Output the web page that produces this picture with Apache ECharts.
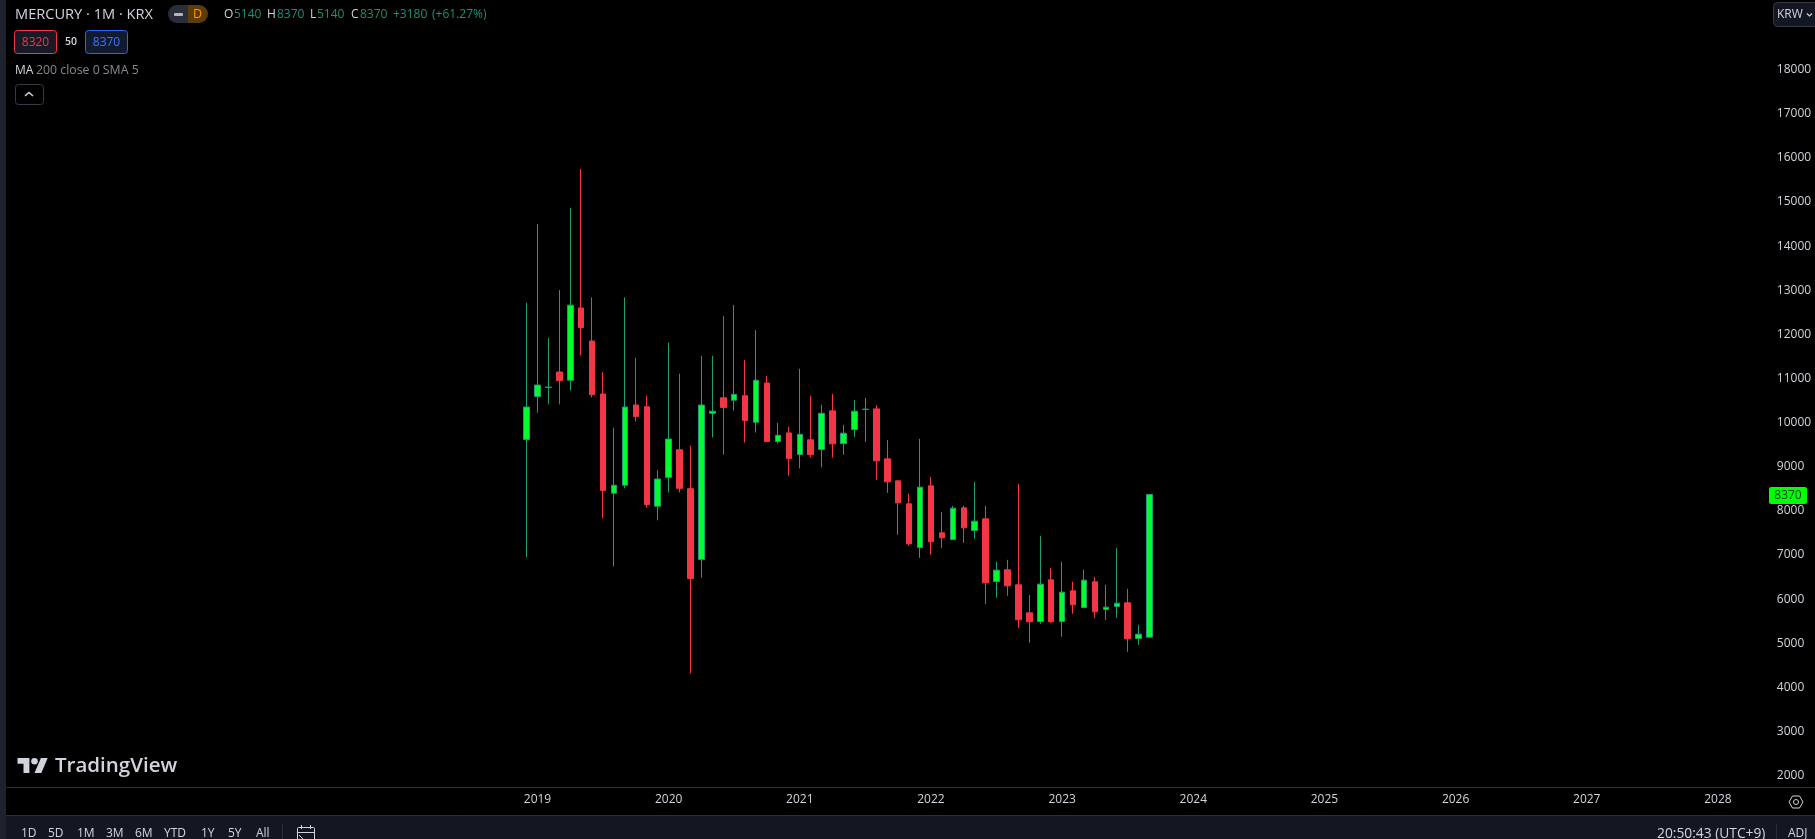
<!DOCTYPE html>
<html>
<head>
<meta charset="utf-8">
<style>html,body{margin:0;padding:0;background:#000;overflow:hidden}#c{width:1815px;height:839px}</style>
<script src="https://cdn.jsdelivr.net/npm/echarts@6/dist/echarts.min.js"></script>
</head>
<body>
<div id="c"></div>
<script>
// Monthly bars, Dec 2018 .. Sep 2023
const opens  = [9620,10595,10800,11149,10962,12600,11851,10650,8403,8583,10400,10361,8107,8762,9386,8505,6898,10213,10564,10510,10611,10010,10900,9573,9769,9277,9612,9394,
                10268,9528,9845,10300,10313,9180,8682,8161,7172,8569,7504,7353,8070,7557,7821,6401,6666,6326,5691,5495,6439,5495,6190,5812,6394,5767,5835,5918,5110,5140];
const closes = [10354,10853,10806,10954,12663,12156,10634,8466,8583,10354,10143,8146,8723,9628,8513,6469,10400,10260,10346,10642,10049,10962,9573,9714,9191,9737,9277,10213,
                9520,9762,10260,10306,9135,8659,8184,7255,8539,7300,7391,8063,7617,7768,6371,6658,6303,5533,5488,6341,5488,6160,5873,6432,5714,5820,5910,5102,5208,8370];
const lows   = [6945,10229,10416,10416,10728,11524,10572,7834,6742,8513,10026,8076,7787,8419,8419,4316,6492,9667,9277,10276,9550,9776,9573,9527,8801,8965,9215,8988,
                9211,9271,9679,9566,8705,8410,7459,7209,6938,7006,7164,7353,7277,7368,5895,6031,6077,5352,5012,5442,5465,5148,5669,5812,5578,5533,5578,4808,4966,5140];
const highs  = [12717,14504,11922,13006,14870,15752,12842,11149,9886,12842,11469,10611,8926,11812,11110,9480,11516,11516,12421,12670,11422,12101,11063,9995,9909,11220,10611,10408,
                10653,9951,10517,10563,10396,9611,8682,8388,9634,8773,7980,8116,8116,8659,8116,6847,6892,8614,6099,7436,6711,6847,6394,6666,6507,6326,7164,6235,5420,8370];
const priceTicks = [2000,3000,4000,5000,6000,7000,8000,9000,10000,11000,12000,13000,14000,15000,16000,17000,18000];
const firstYear = 2015, lastMonthCount = 161, leadingEmptyMonths = 47, firstLabelYear = 2019;
const categories = [];
for (let i = 0; i < lastMonthCount; i++) {
  const y = firstYear + Math.floor(i / 12), m = i % 12 + 1;
  categories.push(y + '-' + String(m).padStart(2, '0'));
}
const bars = Array(leadingEmptyMonths).fill('-').concat(opens.map((o, i) => [o, closes[i], lows[i], highs[i]]));

const FONT = '"Open Sans","Noto Sans",sans-serif';
const GREY = '#d1d4dc', TEAL = '#1f8f78', UP = '#00ff2a', UPB = '#1f9c7c', DOWN = '#f23645';
const txt = (text, x, y, fill, size, extra) => ({ type: 'text', x, y, silent: true, z: 20,
  style: Object.assign({ text, fill, font: (size || 12) + 'px ' + FONT, textVerticalAlign: 'middle', textBaseline: 'middle' }, extra || {}) });
const rect = (x, y, w, h, fill, stroke, r) => ({ type: 'rect', silent: true, z: 10,
  shape: { x, y, width: w, height: h, r: r || 0 }, style: { fill: fill || 'transparent', stroke: stroke || null, lineWidth: stroke ? 1 : 0 } });
const line = (x1, y1, x2, y2, stroke, lw) => ({ type: 'line', silent: true, z: 11, shape: { x1, y1, x2, y2 }, style: { stroke, lineWidth: lw || 1 } });
const poly = (pts, stroke, lw) => ({ type: 'polyline', silent: true, z: 21, shape: { points: pts }, style: { stroke, lineWidth: lw || 1.5, fill: null } });
const solid = (pts, fill) => ({ type: 'polygon', silent: true, z: 20, shape: { points: pts }, style: { fill } });

const chart = echarts.init(document.getElementById('c'), null, { width: 1815, height: 839 });
const chrome = [
  rect(0, 0, 6, 839, '#1e222d'),
  rect(6, 815, 1809, 24, '#131722'),
  line(6, 787.5, 1815, 787.5, '#2a2e39'),
  line(6, 815.5, 1815, 815.5, '#2a2e39'),
  line(282.5, 824, 282.5, 839, '#2a2e39'),
  line(1776.5, 824, 1776.5, 839, '#2a2e39'),
  // symbol header
  txt('MERCURY · 1M · KRX', 15, 15, GREY, 14.6),
  rect(168, 5, 20, 18, '#2a2e39', null, [9, 0, 0, 9]),
  rect(188, 5, 20, 18, '#5e3b08', null, [0, 9, 9, 0]),
  rect(174, 13, 9, 3, '#b2b5be', null, 1),
  txt('D', 193, 14.5, '#ff9800', 12.5),
  txt('O', 224, 15, GREY, 12), txt('5140', 234, 15, TEAL, 12),
  txt('H', 267, 15, GREY, 12), txt('8370', 277, 15, TEAL, 12),
  txt('L', 310, 15, GREY, 12), txt('5140', 317, 15, TEAL, 12),
  txt('C', 351, 15, GREY, 12), txt('8370', 360, 15, TEAL, 12),
  txt('+3180', 393, 15, TEAL, 12), txt('(+61.27%)', 432, 15, TEAL, 12),
  // buy / sell
  rect(14.5, 30.5, 42, 23, '#1a1a26', DOWN, 3),
  txt('8320', 35.5, 42.5, DOWN, 12, { align: 'center', textAlign: 'center' }),
  txt('50', 71, 42, GREY, 10.5, { align: 'center', textAlign: 'center', font: '600 10.5px ' + FONT }),
  rect(85.5, 30.5, 42, 23, '#121a30', '#2962ff', 3),
  txt('8370', 106.5, 42.5, '#3d74ff', 12, { align: 'center', textAlign: 'center' }),
  txt('MA', 15, 70.5, GREY, 12),
  txt('200 close 0 SMA 5', 36, 70.5, '#868993', 12.3),
  rect(15.5, 84.5, 28, 20, '#000', '#363a45', 3),
  poly([[25, 96], [29, 92.5], [33, 96]], GREY, 1.5),
  // logo
  solid([[17.5, 758], [29.4, 758], [29.4, 773], [23.5, 773], [23.5, 763.8], [17.5, 763.8]], GREY),
  solid([[41.3, 773], [34.5, 773], [40.9, 758], [47.7, 758]], GREY),
  { type: 'circle', silent: true, z: 20, shape: { cx: 34.5, cy: 761.3, r: 3.3 }, style: { fill: GREY } },
  txt('TradingView', 55, 766.5, GREY, 20.5, { font: '600 20.5px ' + FONT }),
  // range buttons
  txt('1D', 21, 834, GREY, 12), txt('5D', 48, 834, GREY, 12), txt('1M', 77, 834, GREY, 12),
  txt('3M', 106, 834, GREY, 12), txt('6M', 135, 834, GREY, 12), txt('YTD', 164, 834, GREY, 12),
  txt('1Y', 201, 834, GREY, 12), txt('5Y', 228, 834, GREY, 12), txt('All', 256, 834, GREY, 12),
  rect(297.5, 827.5, 17, 14, 'transparent', GREY, 1),
  line(297.5, 832.5, 314.5, 832.5, GREY),
  line(301.5, 825, 301.5, 829, GREY), line(310.5, 825, 310.5, 829, GREY),
  poly([[299, 835], [303, 839]], GREY, 1),
  txt('20:50:43 (UTC+9)', 1657, 834, GREY, 13.8),
  txt('ADJ', 1788, 834, GREY, 12),
  // currency
  rect(1773.5, 2.5, 45, 24, '#131722', '#363a45', 4),
  txt('KRW', 1777, 14.5, GREY, 12),
  poly([[1807, 13.5], [1809.5, 16], [1812, 13.5]], GREY, 1.2),
  // settings
  { type: 'polygon', silent: true, z: 21, shape: { points: [[1789, 802], [1792.5, 796], [1799.5, 796], [1803, 802], [1799.5, 808], [1792.5, 808]] }, style: { fill: null, stroke: GREY, lineWidth: 1 } },
  { type: 'circle', silent: true, z: 21, shape: { cx: 1796, cy: 802, r: 2.5 }, style: { fill: null, stroke: GREY, lineWidth: 1 } }
];

chart.setOption({
  animation: false,
  backgroundColor: '#000',
  grid: { left: 7.4, top: 0, width: 1759.7, height: 787, containLabel: false },
  xAxis: {
    type: 'category', data: categories, boundaryGap: true,
    axisLine: { show: true, lineStyle: { color: '#2a2e39' } },
    axisTick: { show: false }, splitLine: { show: false },
    axisLabel: {
      color: GREY, fontFamily: FONT, fontSize: 12, margin: 7, hideOverlap: false,
      interval: (i, v) => v.endsWith('-01') && +v.slice(0, 4) >= firstLabelYear,
      formatter: v => v.slice(0, 4)
    }
  },
  yAxis: {
    type: 'value', position: 'right', min: 1744, max: 19579, scale: true,
    axisLine: { show: false }, axisTick: { show: false }, splitLine: { show: false },
    axisLabel: { customValues: priceTicks, color: GREY, fontFamily: FONT, fontSize: 12, margin: 9.7, align: 'left',
      padding: [2, 0, 0, 0], formatter: v => String(v) }
  },
  series: [{
    name: 'MERCURY', type: 'candlestick', data: bars, barWidth: 6,
    itemStyle: { color: UP, color0: DOWN, borderColor: UPB, borderColor0: DOWN, borderColorDoji: UPB, borderWidth: 1 }
  }],
  graphic: { elements: chrome }
});

// last-price tag, positioned through the axis scale
const lastClose = closes[closes.length - 1];
const tagY = Math.round(chart.convertToPixel({ yAxisIndex: 0 }, lastClose));
chart.setOption({ graphic: { elements: chrome.concat([
  rect(1769, tagY - 8, 38, 17, '#00ff00', null, 2),
  txt(String(lastClose), 1788, tagY + 0.5, '#0a3d2a', 12, { align: 'center', textAlign: 'center' })
]) } });
</script>
</body>
</html>
